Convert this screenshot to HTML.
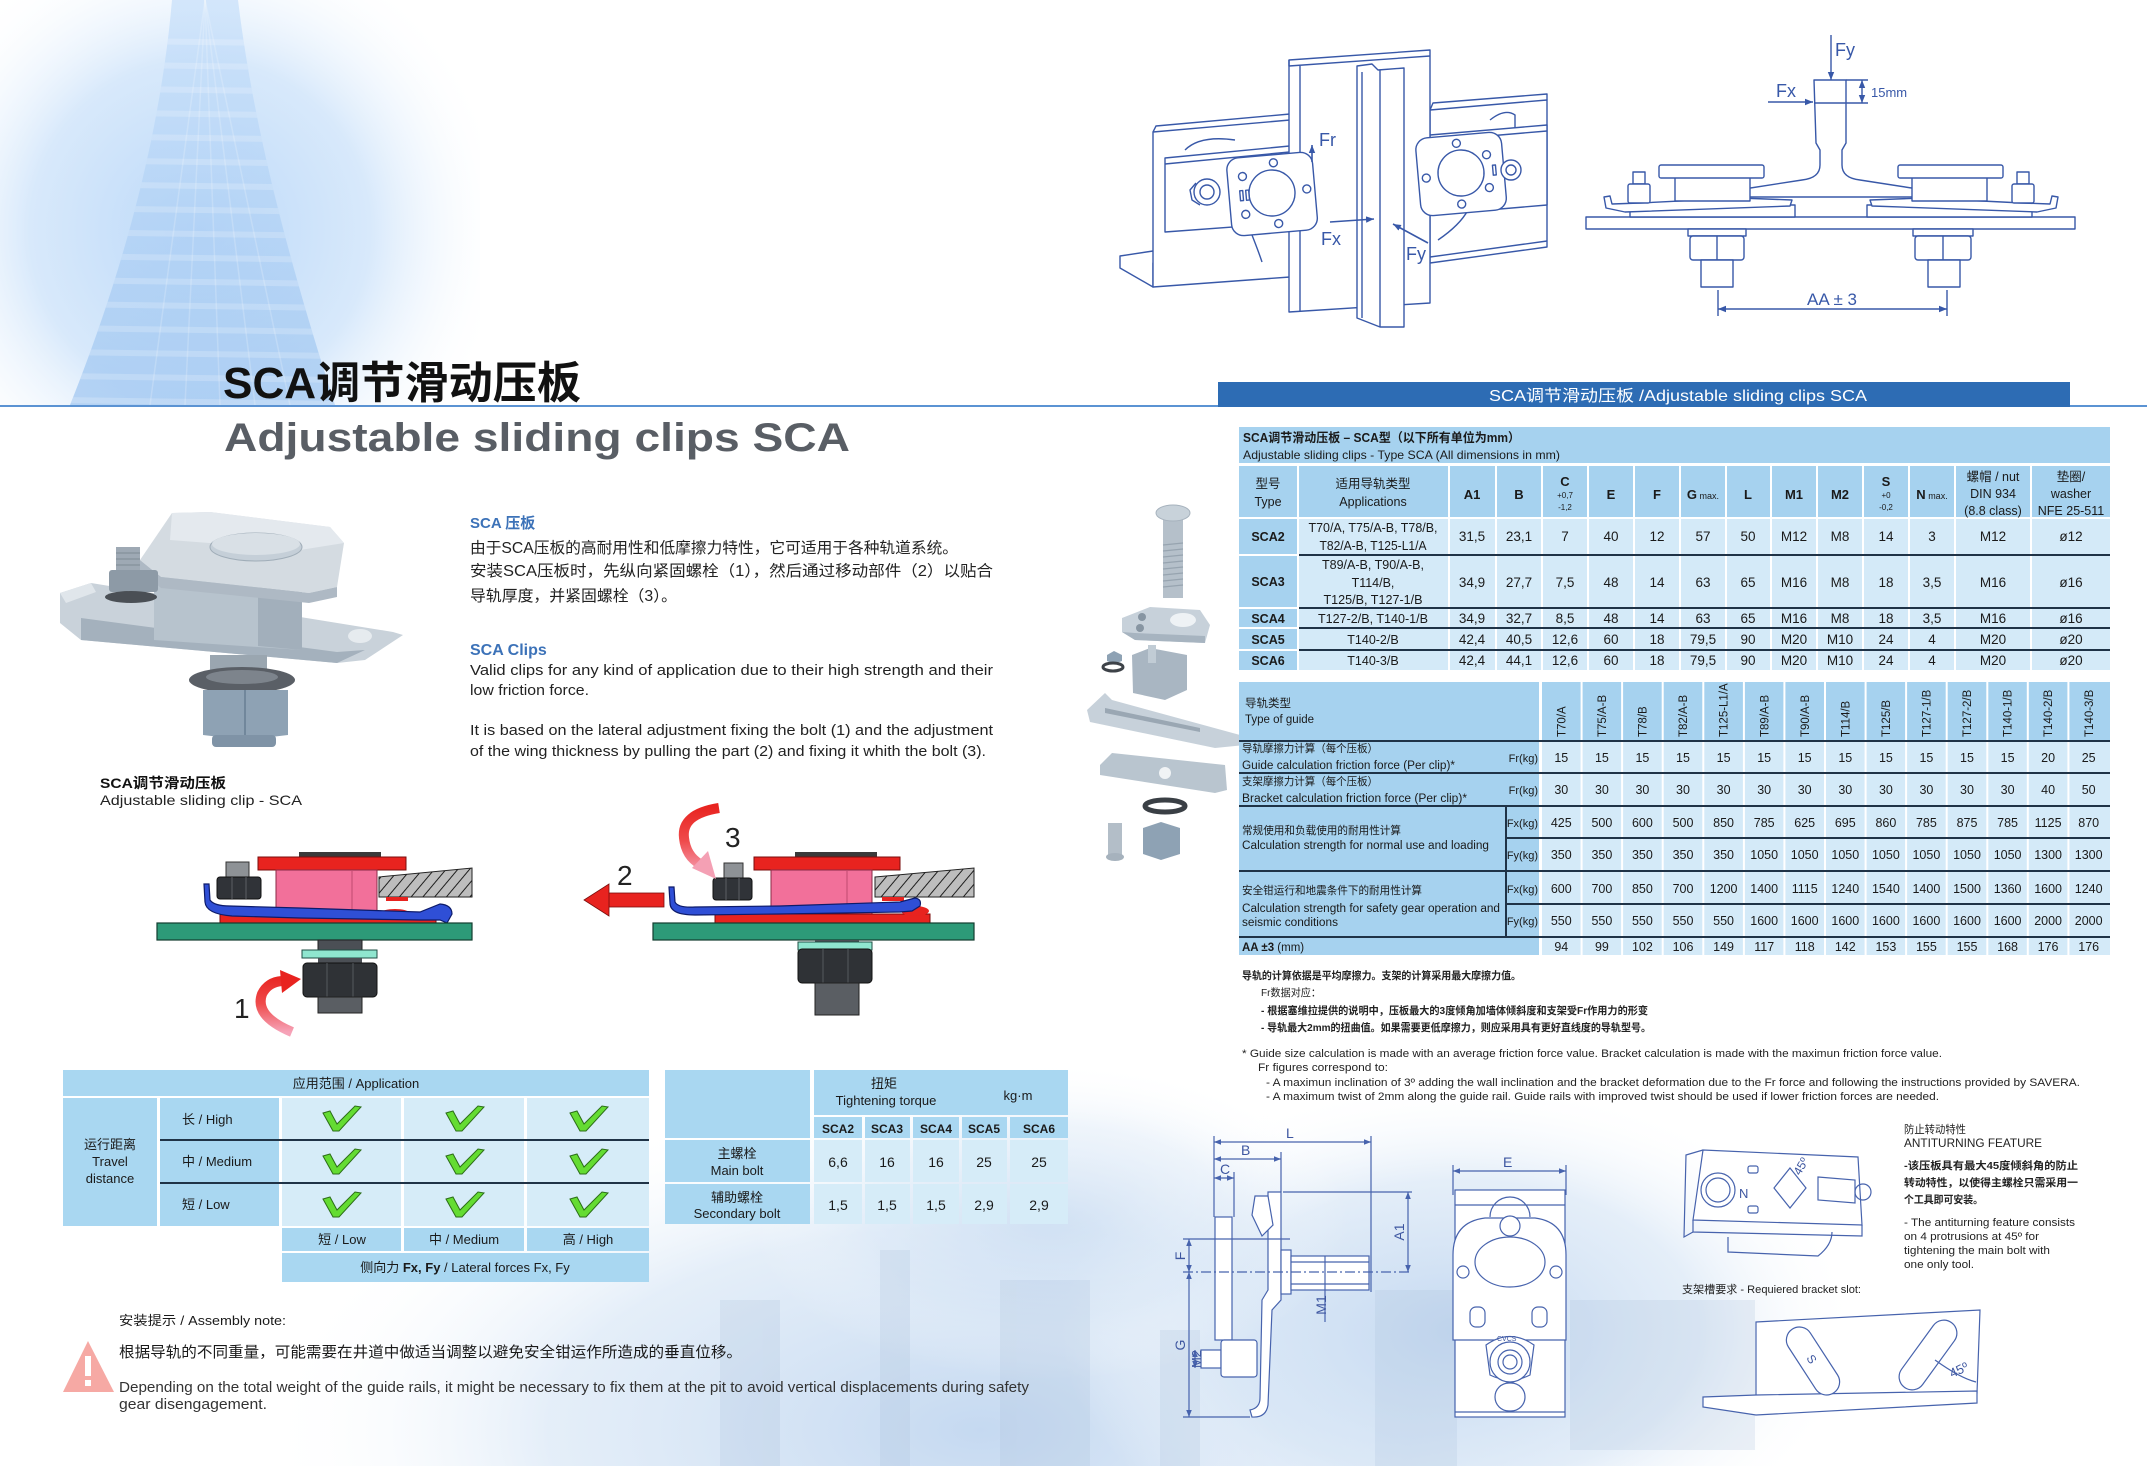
<!DOCTYPE html>
<html><head><meta charset="utf-8">
<style>
html,body{margin:0;padding:0;background:#fff;width:2147px;height:1466px;overflow:hidden;}
body{position:relative;}
svg{position:absolute;left:0;top:0;display:block;}
.s{font-family:"Liberation Sans","Noto Sans CJK SC",sans-serif;}
.b{font-weight:bold;}
</style></head><body>
<svg width="2147" height="1466" viewBox="0 0 2147 1466" xmlns="http://www.w3.org/2000/svg">
<defs>
<radialGradient id="hazeTL" cx="200" cy="230" r="310" gradientUnits="userSpaceOnUse">
<stop offset="0" stop-color="#bcd9f8"/><stop offset="0.55" stop-color="#d8e9fb"/><stop offset="1" stop-color="#ffffff" stop-opacity="0"/>
</radialGradient>
<linearGradient id="bld" x1="0" y1="0" x2="0" y2="1">
<stop offset="0" stop-color="#c6dffa"/><stop offset="1" stop-color="#9cc4f0"/>
</linearGradient>
<radialGradient id="hb1" gradientUnits="userSpaceOnUse" cx="0" cy="0" r="1" gradientTransform="translate(980,1430) scale(720,340)">
<stop offset="0" stop-color="#c2d7f0" stop-opacity="0.95"/><stop offset="0.6" stop-color="#d9e7f6" stop-opacity="0.7"/><stop offset="1" stop-color="#ffffff" stop-opacity="0"/>
</radialGradient>
<radialGradient id="hb2" gradientUnits="userSpaceOnUse" cx="0" cy="0" r="1" gradientTransform="translate(1460,1330) scale(400,250)">
<stop offset="0" stop-color="#c2d7f0" stop-opacity="0.95"/><stop offset="0.6" stop-color="#d9e7f6" stop-opacity="0.7"/><stop offset="1" stop-color="#ffffff" stop-opacity="0"/>
</radialGradient>
<radialGradient id="hb3" gradientUnits="userSpaceOnUse" cx="0" cy="0" r="1" gradientTransform="translate(1050,1220) scale(300,160)">
<stop offset="0" stop-color="#c2d7f0" stop-opacity="0.6"/><stop offset="0.6" stop-color="#d9e7f6" stop-opacity="0.4"/><stop offset="1" stop-color="#ffffff" stop-opacity="0"/>
</radialGradient>
<clipPath id="bclip"><path d="M172,0 C160,140 120,280 70,405 L335,405 C295,280 255,140 238,0 Z"/></clipPath>
<pattern id="hatch" width="9" height="9" patternUnits="userSpaceOnUse" patternTransform="rotate(40)">
<rect width="9" height="9" fill="#bdbdbd"/><line x1="0" y1="0" x2="0" y2="9" stroke="#1e1e1e" stroke-width="2"/>
</pattern>
<marker id="ab" viewBox="0 0 10 10" refX="10" refY="5" markerWidth="8" markerHeight="8" orient="auto-start-reverse" markerUnits="userSpaceOnUse"><path d="M0,1 L10,5 L0,9 z" fill="#3858a8"/></marker>
<marker id="ab2" viewBox="0 0 10 10" refX="10" refY="5" markerWidth="7" markerHeight="7" orient="auto-start-reverse" markerUnits="userSpaceOnUse"><path d="M0,1 L10,5 L0,9 z" fill="#4763ad"/></marker>
<linearGradient id="arr1" x1="0" y1="1032" x2="0" y2="975" gradientUnits="userSpaceOnUse"><stop offset="0" stop-color="#f6a3b8"/><stop offset="0.5" stop-color="#ef4a4a"/><stop offset="1" stop-color="#e8231f"/></linearGradient>
<linearGradient id="arr3" x1="0" y1="806" x2="0" y2="875" gradientUnits="userSpaceOnUse"><stop offset="0" stop-color="#e8231f"/><stop offset="0.5" stop-color="#ef4a4a"/><stop offset="1" stop-color="#f6a3b8"/></linearGradient>
<path id="chk" d="M-18,-6 L-11,-8 L-4,5 L14,-13 L20,-12 L-2,12 L-8,12 Z" fill="#64dc32" stroke="#2c6e18" stroke-width="1"/>
</defs>

<!-- ===== backgrounds ===== -->
<rect x="0" y="0" width="480" height="405" fill="url(#hazeTL)"/>
<path d="M172,0 C160,140 120,280 70,405 L335,405 C295,280 255,140 238,0 Z" fill="url(#bld)" opacity="0.7"/>
<g clip-path="url(#bclip)" stroke="#ffffff" stroke-opacity="0.2" stroke-width="6">
<line x1="60" y1="40" x2="340" y2="44"/><line x1="60" y1="64" x2="340" y2="68"/><line x1="60" y1="88" x2="340" y2="92"/>
<line x1="60" y1="112" x2="340" y2="116"/><line x1="60" y1="136" x2="340" y2="140"/><line x1="60" y1="160" x2="340" y2="164"/>
<line x1="60" y1="184" x2="340" y2="188"/><line x1="60" y1="208" x2="340" y2="212"/><line x1="60" y1="232" x2="340" y2="236"/>
<line x1="60" y1="256" x2="340" y2="260"/><line x1="60" y1="280" x2="340" y2="284"/><line x1="60" y1="304" x2="340" y2="308"/>
<line x1="60" y1="328" x2="340" y2="332"/><line x1="60" y1="352" x2="340" y2="356"/><line x1="60" y1="376" x2="340" y2="380"/>
<line x1="60" y1="400" x2="340" y2="404"/>
</g>
<g clip-path="url(#bclip)" stroke="#ffffff" stroke-opacity="0.2" stroke-width="1.5">
<line x1="205" y1="0" x2="150" y2="405"/><line x1="205" y1="0" x2="185" y2="405"/><line x1="205" y1="0" x2="220" y2="405"/><line x1="205" y1="0" x2="255" y2="405"/><line x1="205" y1="0" x2="290" y2="405"/>
</g>

<rect x="260" y="1090" width="1440" height="376" fill="url(#hb1)"/>
<rect x="1060" y="1080" width="800" height="386" fill="url(#hb2)"/>
<rect x="750" y="1060" width="600" height="320" fill="url(#hb3)"/>
<g fill="#a9bfd9" opacity="0.22">
<rect x="1375" y="1290" width="82" height="176"/>
<rect x="1570" y="1300" width="185" height="150"/>
<rect x="1160" y="1330" width="40" height="136"/>
<rect x="720" y="1300" width="60" height="166"/>
<rect x="880" y="1250" width="30" height="216"/>
<rect x="1000" y="1280" width="90" height="186"/>
</g>

<!-- top line & banner -->
<rect x="0" y="405" width="1218" height="2" fill="#5b93d3"/>
<rect x="2070" y="405" width="77" height="2" fill="#5b93d3"/>
<rect x="1218" y="382" width="852" height="25" fill="#2d6cb4"/>
<text class="s" x="1489" y="401" font-size="16" fill="#ffffff" textLength="378" lengthAdjust="spacingAndGlyphs">SCA调节滑动压板 /Adjustable sliding clips SCA</text>

<!-- titles -->
<text class="s b" x="223" y="398" font-size="44" fill="#111" textLength="358" lengthAdjust="spacingAndGlyphs">SCA调节滑动压板</text>
<text class="s b" x="224" y="451" font-size="40" fill="#595e65" textLength="626" lengthAdjust="spacingAndGlyphs">Adjustable sliding clips SCA</text>

<!-- paragraphs -->
<text class="s b" x="470" y="528" font-size="15" fill="#3c72b8">SCA 压板</text>
<text class="s" x="470" y="553" font-size="15.5" fill="#222" textLength="488" lengthAdjust="spacingAndGlyphs">由于SCA压板的高耐用性和低摩擦力特性，它可适用于各种轨道系统。</text>
<text class="s" x="470" y="576" font-size="15.5" fill="#222" textLength="523" lengthAdjust="spacingAndGlyphs">安装SCA压板时，先纵向紧固螺栓（1），然后通过移动部件（2）以贴合</text>
<text class="s" x="470" y="601" font-size="15.5" fill="#222" textLength="207" lengthAdjust="spacingAndGlyphs">导轨厚度，并紧固螺栓（3）。</text>
<text class="s b" x="470" y="655" font-size="16" fill="#3c72b8">SCA Clips</text>
<text class="s" x="470" y="675" font-size="14.5" fill="#222" textLength="523" lengthAdjust="spacingAndGlyphs">Valid clips for any kind of application due to their high strength and their</text>
<text class="s" x="470" y="695" font-size="14.5" fill="#222" textLength="119" lengthAdjust="spacingAndGlyphs">low friction force.</text>
<text class="s" x="470" y="735" font-size="14.5" fill="#222" textLength="523" lengthAdjust="spacingAndGlyphs">It is based on the lateral adjustment fixing the bolt (1) and the adjustment</text>
<text class="s" x="470" y="756" font-size="14.5" fill="#222" textLength="516" lengthAdjust="spacingAndGlyphs">of the wing thickness by pulling the part (2) and fixing it whith the bolt (3).</text>

<text class="s b" x="100" y="788" font-size="14" fill="#111" textLength="126" lengthAdjust="spacingAndGlyphs">SCA调节滑动压板</text>
<text class="s" x="100" y="805" font-size="14" fill="#222" textLength="202" lengthAdjust="spacingAndGlyphs">Adjustable sliding clip - SCA</text>

<!-- ===== clip photo ===== -->
<g>
<polygon points="60,593 91,583 393,632 403,635 365,660 337,663 81,640 60,623" fill="#c9d2da"/>
<polygon points="81,618 337,652 365,650 337,663 81,640" fill="#a4b1bd"/>
<polygon points="60,593 91,583 96,592 66,603" fill="#e0e6eb"/>
<rect x="210" y="655" width="57" height="30" fill="#9aa6b0"/>
<ellipse cx="242" cy="680" rx="53" ry="13" fill="#5a5f66"/>
<ellipse cx="242" cy="677" rx="36" ry="7" fill="#7d848c"/>
<polygon points="203,690 288,690 288,735 245,740 203,735" fill="#8ea2b4"/>
<line x1="245" y1="690" x2="245" y2="740" stroke="#71879b" stroke-width="2"/>
<rect x="212" y="735" width="64" height="12" rx="4" fill="#7f93a6"/>
<polygon points="154,565 302,560 302,650 154,640" fill="#b7c3cd"/>
<polygon points="258,562 302,560 302,650 258,646" fill="#a2afbb"/>
<polygon points="140,560 172,513 210,512 330,527 344,543 337,587 309,593 161,577" fill="#d4dbe1"/>
<polygon points="172,513 210,512 330,527 344,543 300,550 170,540" fill="#e4e9ee"/>
<polygon points="140,560 161,577 309,593 337,587 337,597 309,603 161,588 140,570" fill="#aeb9c4"/>
<ellipse cx="256" cy="547" rx="46" ry="14" fill="#c5cfd8" stroke="#a0adb8"/>
<ellipse cx="256" cy="544" rx="44" ry="11" fill="#d9e0e6"/>
<rect x="116" y="547" width="24" height="24" fill="#9ea9b4"/>
<line x1="116" y1="553" x2="140" y2="553" stroke="#7f8a95"/><line x1="116" y1="559" x2="140" y2="559" stroke="#7f8a95"/><line x1="116" y1="565" x2="140" y2="565" stroke="#7f8a95"/>
<rect x="109" y="570" width="49" height="22" rx="3" fill="#8d9aa6"/>
<ellipse cx="131" cy="597" rx="26" ry="6" fill="#4a4f55"/>
<ellipse cx="360" cy="636" rx="12" ry="7" fill="#e6ebef"/>
</g>

<!-- ===== exploded parts ===== -->
<g>
<rect x="1163" y="519" width="20" height="79" fill="#b5c0ca"/>
<g stroke="#97a4b0" stroke-width="1.2"><line x1="1163" y1="545" x2="1183" y2="543"/><line x1="1163" y1="551" x2="1183" y2="549"/><line x1="1163" y1="557" x2="1183" y2="555"/><line x1="1163" y1="563" x2="1183" y2="561"/><line x1="1163" y1="569" x2="1183" y2="567"/><line x1="1163" y1="575" x2="1183" y2="573"/><line x1="1163" y1="581" x2="1183" y2="579"/><line x1="1163" y1="587" x2="1183" y2="585"/></g>
<ellipse cx="1173" cy="513" rx="17" ry="8" fill="#c8d2da" stroke="#a6b2bd"/>
<polygon points="1122,618 1150,607 1200,610 1210,625 1205,643 1135,640 1122,632" fill="#c7d1da"/>
<polygon points="1122,632 1135,640 1205,643 1205,636 1135,633" fill="#a7b4c0"/>
<ellipse cx="1183" cy="620" rx="13" ry="7" fill="#eef2f5"/>
<circle cx="1142" cy="617" r="4" fill="#8795a2"/><circle cx="1140" cy="628" r="4" fill="#8795a2"/>
<polygon points="1107,655 1114,651 1122,655 1122,661 1114,664 1107,661" fill="#8ea2b4"/>
<ellipse cx="1113" cy="667" rx="10" ry="4" fill="none" stroke="#3d4248" stroke-width="3"/>
<polygon points="1132,655 1150,648 1187,655 1187,690 1165,700 1133,693" fill="#a9b6c2"/>
<rect x="1148" y="645" width="8" height="18" fill="#c1ccd5"/>
<polygon points="1087,710 1105,693 1112,700 1240,735 1245,745 1215,748 1090,722" fill="#c7d1da"/>
<polygon points="1105,708 1200,728 1200,732 1105,713" fill="#9aa7b3"/>
<polygon points="1100,765 1112,753 1225,765 1227,790 1215,793 1100,775" fill="#b9c5cf"/>
<circle cx="1165" cy="773" r="6" fill="#f0f3f5"/>
<ellipse cx="1165" cy="806" rx="20" ry="6" fill="none" stroke="#3a3f45" stroke-width="5"/>
<rect x="1108" y="823" width="14" height="32" fill="#b3bec8"/>
<ellipse cx="1115" cy="857" rx="9" ry="4" fill="#a6b2bd"/>
<polygon points="1143,828 1161,822 1180,828 1180,854 1161,860 1143,854" fill="#8ea2b4"/>
</g>

<!-- ===== top-left iso drawing ===== -->
<g fill="#fff" stroke="#3858a8" stroke-width="1.4" stroke-linejoin="round">
<polygon points="1120,256 1153,251 1290,238 1290,250 1153,263 1153,287 1120,268"/>
<polygon points="1153,132 1290,120 1290,277 1153,287"/>
<polyline points="1153,132 1156,126 1290,114" fill="none"/>
<path d="M1185,150 Q1200,135 1235,140" fill="none"/>
<path d="M1250,230 Q1258,250 1262,262" fill="none"/>
<polygon points="1430,110 1547,100 1547,247 1430,263"/>
<polyline points="1430,110 1433,103 1547,94 1547,100" fill="none"/>
<line x1="1430" y1="257" x2="1547" y2="241"/>
<path d="M1490,120 Q1505,108 1515,115 L1515,128" fill="none"/>
<polygon points="1165,158 1300,145 1300,222 1165,232"/>
<line x1="1165" y1="164" x2="1300" y2="151"/>
<polygon points="1430,135 1547,125 1547,205 1430,215"/>
<line x1="1430" y1="141" x2="1547" y2="131"/>
<path d="M1438,240 Q1460,225 1468,210" fill="none"/>
<polygon points="1289,60 1430,50 1430,303 1289,312"/>
<polyline points="1289,60 1289,66 1430,56" fill="none"/>
<line x1="1300" y1="66" x2="1300" y2="311"/>
<polygon points="1357,66 1372,64 1378,70 1404,68 1404,327 1380,327 1357,318"/>
<line x1="1380" y1="70" x2="1380" y2="327"/>
<line x1="1362" y1="72" x2="1362" y2="318"/>
<g transform="rotate(-5 1272 193)">
<rect x="1229" y="155" width="86" height="78" rx="12"/>
<circle cx="1272" cy="193" r="23"/>
<circle cx="1244" cy="174" r="4"/><circle cx="1244" cy="212" r="4"/><circle cx="1276" cy="163" r="4"/><circle cx="1276" cy="224" r="4"/><circle cx="1307" cy="192" r="4"/>
<rect x="1240" y="188" width="3" height="10"/><rect x="1246" y="188" width="3" height="10"/>
</g>
<circle cx="1207" cy="192" r="13"/><circle cx="1207" cy="192" r="7"/>
<path d="M1196,183 L1190,190 L1192,200 L1200,205" fill="none"/>
<g transform="rotate(-5 1461 173)">
<rect x="1418" y="135" width="86" height="78" rx="12"/>
<circle cx="1461" cy="173" r="23"/>
<circle cx="1459" cy="143" r="4"/><circle cx="1459" cy="204" r="4"/><circle cx="1488" cy="157" r="4"/><circle cx="1488" cy="190" r="4"/><circle cx="1426" cy="175" r="4"/>
<rect x="1493" y="168" width="3" height="10"/>
</g>
<circle cx="1511" cy="170" r="10"/><circle cx="1511" cy="170" r="5"/>
</g>
<g stroke="#3858a8" stroke-width="1.6" fill="none">
<line x1="1312" y1="162" x2="1312" y2="145" marker-end="url(#ab)"/>
<line x1="1330" y1="222" x2="1374" y2="219" marker-end="url(#ab)"/>
<line x1="1428" y1="243" x2="1393" y2="224" marker-end="url(#ab)"/>
</g>
<g class="s" font-size="18" fill="#3858a8">
<text x="1319" y="146">Fr</text>
<text x="1321" y="245">Fx</text>
<text x="1406" y="260">Fy</text>
</g>

<!-- ===== top-right T rail drawing ===== -->
<g fill="#fff" stroke="#3858a8" stroke-width="1.4" stroke-linejoin="round">
<rect x="1586" y="217" width="489" height="12"/>
<rect x="1630" y="205" width="165" height="12"/>
<rect x="1867" y="205" width="165" height="12"/>
<path d="M1814,80 L1846,80 L1846,143 L1842,150 L1842,165 Q1842,178 1860,180 L1918,189 L1918,197 L1744,197 L1744,189 L1802,180 Q1820,178 1820,165 L1820,150 L1816,143 Z"/>
<line x1="1814" y1="103" x2="1846" y2="103"/>
<path d="M1604,197 L1606,208 L1625,212 L1790,206 L1792,200 L1740,198 L1640,203 L1612,204 L1610,196 Z"/>
<path d="M2058,197 L2056,208 L2037,212 L1872,206 L1870,200 L1922,198 L2022,203 L2050,204 L2052,196 Z"/>
<rect x="1675" y="177" width="75" height="24"/>
<rect x="1659" y="165" width="105" height="13" rx="2"/>
<rect x="1912" y="177" width="75" height="24"/>
<rect x="1898" y="165" width="105" height="13" rx="2"/>
<rect x="1633" y="172" width="12" height="12"/>
<rect x="1628" y="184" width="22" height="19" rx="2"/>
<rect x="2017" y="172" width="12" height="12"/>
<rect x="2012" y="184" width="22" height="19" rx="2"/>
<rect x="1688" y="229" width="58" height="7"/>
<rect x="1690" y="236" width="54" height="24" rx="3"/>
<line x1="1717" y1="236" x2="1717" y2="260"/>
<rect x="1701" y="260" width="32" height="27"/>
<rect x="1913" y="229" width="60" height="7"/>
<rect x="1915" y="236" width="56" height="24" rx="3"/>
<line x1="1943" y1="236" x2="1943" y2="260"/>
<rect x="1928" y="260" width="32" height="27"/>
</g>
<g stroke="#3858a8" stroke-width="1.4" fill="none">
<line x1="1831" y1="35" x2="1831" y2="80" marker-end="url(#ab)"/>
<line x1="1768" y1="102" x2="1813" y2="102" marker-end="url(#ab)"/>
<line x1="1846" y1="80" x2="1868" y2="80"/>
<line x1="1846" y1="103" x2="1868" y2="103"/>
<line x1="1862" y1="80" x2="1862" y2="103" marker-start="url(#ab)" marker-end="url(#ab)"/>
<line x1="1718" y1="290" x2="1718" y2="316"/>
<line x1="1947" y1="290" x2="1947" y2="316"/>
<line x1="1718" y1="309" x2="1947" y2="309" marker-start="url(#ab)" marker-end="url(#ab)"/>
</g>
<g class="s" fill="#3858a8">
<text x="1835" y="56" font-size="18">Fy</text>
<text x="1776" y="97" font-size="18">Fx</text>
<text x="1871" y="97" font-size="13">15mm</text>
<text x="1832" y="305" font-size="17" text-anchor="middle">AA ± 3</text>
</g>

<!-- ===== table 1 ===== -->
<g>
<rect x="1239" y="427" width="871" height="36" fill="#a6d2ef"/>
<rect x="1239" y="466" width="871" height="51" fill="#a6d2ef"/>
<rect x="1299" y="519" width="811" height="151" fill="#d4eaf8"/>
<rect x="1239" y="519" width="58" height="151" fill="#a6d2ef"/>
<g fill="#fff">
<rect x="1297" y="466" width="2" height="204"/><rect x="1448" y="466" width="2" height="204"/><rect x="1495" y="466" width="2" height="204"/>
<rect x="1541" y="466" width="2" height="204"/><rect x="1587" y="466" width="2" height="204"/><rect x="1633" y="466" width="2" height="204"/>
<rect x="1679" y="466" width="2" height="204"/><rect x="1725" y="466" width="2" height="204"/><rect x="1770" y="466" width="2" height="204"/>
<rect x="1816" y="466" width="2" height="204"/><rect x="1862" y="466" width="2" height="204"/><rect x="1908" y="466" width="2" height="204"/>
<rect x="1954" y="466" width="2" height="204"/><rect x="2030" y="466" width="2" height="204"/>
<rect x="1239" y="517" width="871" height="2"/>
<rect x="1239" y="554" width="58" height="2"/><rect x="1239" y="607" width="58" height="2"/><rect x="1239" y="627" width="58" height="2"/><rect x="1239" y="649" width="58" height="2"/>
</g>
<g fill="#1f3347">
<rect x="1299" y="554" width="811" height="2"/><rect x="1299" y="607" width="811" height="2"/><rect x="1299" y="627" width="811" height="2"/><rect x="1299" y="649" width="811" height="2"/>
</g>
<g class="s" fill="#1a1a1a">
<text class="b" x="1243" y="442" font-size="12.5" textLength="277" lengthAdjust="spacingAndGlyphs">SCA调节滑动压板 – SCA型（以下所有单位为mm）</text>
<text x="1243" y="459" font-size="12" textLength="317" lengthAdjust="spacingAndGlyphs">Adjustable sliding clips - Type SCA  (All dimensions in mm)</text>
</g>
<g class="s" fill="#1a1a1a" font-size="12.5" text-anchor="middle">
<text x="1268" y="488">型号</text><text x="1268" y="506">Type</text>
<text x="1373" y="488">适用导轨类型</text><text x="1373" y="506">Applications</text>
<text class="b" x="1472" y="499" font-size="13">A1</text>
<text class="b" x="1519" y="499" font-size="13">B</text>
<text class="b" x="1565" y="486" font-size="13">C</text><text x="1565" y="498" font-size="8">+0,7</text><text x="1565" y="510" font-size="8">-1,2</text>
<text class="b" x="1611" y="499" font-size="13">E</text>
<text class="b" x="1657" y="499" font-size="13">F</text>
<text x="1703" y="499"><tspan font-weight="bold" font-size="13">G</tspan><tspan font-size="9"> max.</tspan></text>
<text class="b" x="1748" y="499" font-size="13">L</text>
<text class="b" x="1794" y="499" font-size="13">M1</text>
<text class="b" x="1840" y="499" font-size="13">M2</text>
<text class="b" x="1886" y="486" font-size="13">S</text><text x="1886" y="498" font-size="8">+0</text><text x="1886" y="510" font-size="8">-0,2</text>
<text x="1932" y="499"><tspan font-weight="bold" font-size="13">N</tspan><tspan font-size="9"> max.</tspan></text>
<text x="1993" y="481">螺帽 / nut</text><text x="1993" y="498">DIN 934</text><text x="1993" y="515">(8.8 class)</text>
<text x="2071" y="481">垫圈/</text><text x="2071" y="498">washer</text><text x="2071" y="515">NFE 25-511</text>
</g>
<g class="s b" fill="#1a1a1a" font-size="12.5" text-anchor="middle">
<text x="1268" y="541">SCA2</text><text x="1268" y="586">SCA3</text><text x="1268" y="623">SCA4</text><text x="1268" y="644">SCA5</text><text x="1268" y="665">SCA6</text>
</g>
<g class="s" fill="#1a1a1a" font-size="12.5" text-anchor="middle">
<text x="1373" y="532" textLength="129" lengthAdjust="spacingAndGlyphs">T70/A, T75/A-B, T78/B,</text>
<text x="1373" y="550" textLength="107" lengthAdjust="spacingAndGlyphs">T82/A-B, T125-L1/A</text>
<text x="1373" y="569" textLength="102" lengthAdjust="spacingAndGlyphs">T89/A-B, T90/A-B,</text>
<text x="1373" y="587">T114/B,</text>
<text x="1373" y="604" textLength="99" lengthAdjust="spacingAndGlyphs">T125/B, T127-1/B</text>
<text x="1373" y="623" textLength="110" lengthAdjust="spacingAndGlyphs">T127-2/B, T140-1/B</text>
<text x="1373" y="644">T140-2/B</text>
<text x="1373" y="665">T140-3/B</text>
</g>
<g class="s" fill="#1a1a1a" font-size="13.5" text-anchor="middle">
<text x="1472" y="541">31,5</text><text x="1519" y="541">23,1</text><text x="1565" y="541">7</text><text x="1611" y="541">40</text><text x="1657" y="541">12</text><text x="1703" y="541">57</text><text x="1748" y="541">50</text><text x="1794" y="541">M12</text><text x="1840" y="541">M8</text><text x="1886" y="541">14</text><text x="1932" y="541">3</text><text x="1993" y="541">M12</text><text x="2071" y="541">ø12</text>
<text x="1472" y="587">34,9</text><text x="1519" y="587">27,7</text><text x="1565" y="587">7,5</text><text x="1611" y="587">48</text><text x="1657" y="587">14</text><text x="1703" y="587">63</text><text x="1748" y="587">65</text><text x="1794" y="587">M16</text><text x="1840" y="587">M8</text><text x="1886" y="587">18</text><text x="1932" y="587">3,5</text><text x="1993" y="587">M16</text><text x="2071" y="587">ø16</text>
<text x="1472" y="623">34,9</text><text x="1519" y="623">32,7</text><text x="1565" y="623">8,5</text><text x="1611" y="623">48</text><text x="1657" y="623">14</text><text x="1703" y="623">63</text><text x="1748" y="623">65</text><text x="1794" y="623">M16</text><text x="1840" y="623">M8</text><text x="1886" y="623">18</text><text x="1932" y="623">3,5</text><text x="1993" y="623">M16</text><text x="2071" y="623">ø16</text>
<text x="1472" y="644">42,4</text><text x="1519" y="644">40,5</text><text x="1565" y="644">12,6</text><text x="1611" y="644">60</text><text x="1657" y="644">18</text><text x="1703" y="644">79,5</text><text x="1748" y="644">90</text><text x="1794" y="644">M20</text><text x="1840" y="644">M10</text><text x="1886" y="644">24</text><text x="1932" y="644">4</text><text x="1993" y="644">M20</text><text x="2071" y="644">ø20</text>
<text x="1472" y="665">42,4</text><text x="1519" y="665">44,1</text><text x="1565" y="665">12,6</text><text x="1611" y="665">60</text><text x="1657" y="665">18</text><text x="1703" y="665">79,5</text><text x="1748" y="665">90</text><text x="1794" y="665">M20</text><text x="1840" y="665">M10</text><text x="1886" y="665">24</text><text x="1932" y="665">4</text><text x="1993" y="665">M20</text><text x="2071" y="665">ø20</text>
</g>
</g>

<!-- ===== table 2 ===== -->
<g>
<rect x="1239" y="682" width="871" height="58" fill="#a6d2ef"/>
<rect x="1542" y="742" width="568" height="213" fill="#d4eaf8"/>
<rect x="1239" y="742" width="300" height="213" fill="#a6d2ef"/>
<g fill="#fff">
<rect x="1539" y="682" width="3" height="273"/>
<rect x="1580.6" y="682" width="2" height="273"/><rect x="1621.1" y="682" width="2" height="273"/><rect x="1661.7" y="682" width="2" height="273"/>
<rect x="1702.3" y="682" width="2" height="273"/><rect x="1742.9" y="682" width="2" height="273"/><rect x="1783.4" y="682" width="2" height="273"/>
<rect x="1824" y="682" width="2" height="273"/><rect x="1864.6" y="682" width="2" height="273"/><rect x="1905.1" y="682" width="2" height="273"/>
<rect x="1945.7" y="682" width="2" height="273"/><rect x="1986.3" y="682" width="2" height="273"/><rect x="2026.8" y="682" width="2" height="273"/>
<rect x="2067.4" y="682" width="2" height="273"/>
</g>
<g fill="#1f3347">
<rect x="1239" y="740" width="871" height="2"/>
<rect x="1239" y="772" width="871" height="2"/>
<rect x="1239" y="805" width="871" height="2"/>
<rect x="1507" y="837" width="603" height="2"/>
<rect x="1239" y="870" width="871" height="2"/>
<rect x="1507" y="903" width="603" height="2"/>
<rect x="1239" y="936" width="871" height="2"/>
<rect x="1505" y="807" width="2" height="129"/>
</g>
<g class="s" fill="#1a1a1a" font-size="11.5">
<text x="1245" y="707">导轨类型</text>
<text x="1245" y="723">Type of guide</text>
<text x="1242" y="752" font-size="11" textLength="136" lengthAdjust="spacingAndGlyphs">导轨摩擦力计算（每个压板）</text>
<text x="1242" y="769" textLength="213" lengthAdjust="spacingAndGlyphs">Guide calculation friction force (Per clip)*</text>
<text x="1242" y="785" font-size="11" textLength="136" lengthAdjust="spacingAndGlyphs">支架摩擦力计算（每个压板）</text>
<text x="1242" y="802" textLength="225" lengthAdjust="spacingAndGlyphs">Bracket calculation friction force (Per clip)*</text>
<text x="1242" y="834" font-size="11" textLength="159" lengthAdjust="spacingAndGlyphs">常规使用和负载使用的耐用性计算</text>
<text x="1242" y="849" textLength="247" lengthAdjust="spacingAndGlyphs">Calculation strength for normal use and loading</text>
<text x="1242" y="894" font-size="11" textLength="180" lengthAdjust="spacingAndGlyphs">安全钳运行和地震条件下的耐用性计算</text>
<text x="1242" y="912" textLength="258" lengthAdjust="spacingAndGlyphs">Calculation strength for safety gear operation and</text>
<text x="1242" y="926" textLength="96" lengthAdjust="spacingAndGlyphs">seismic conditions</text>
<text x="1242" y="951" font-weight="bold">AA ±3  <tspan font-weight="normal">(mm)</tspan></text>
</g>
<g class="s" fill="#1a1a1a" font-size="11" text-anchor="end">
<text x="1538" y="762">Fr(kg)</text><text x="1538" y="794">Fr(kg)</text>
<text x="1538" y="827">Fx(kg)</text><text x="1538" y="859">Fy(kg)</text>
<text x="1538" y="893">Fx(kg)</text><text x="1538" y="925">Fy(kg)</text>
</g>
<g class="s" fill="#1a1a1a" font-size="11.5">
<text transform="translate(1565.5,737) rotate(-90)">T70/A</text>
<text transform="translate(1606,737) rotate(-90)">T75/A-B</text>
<text transform="translate(1646.5,737) rotate(-90)">T78/B</text>
<text transform="translate(1687,737) rotate(-90)">T82/A-B</text>
<text transform="translate(1727.7,737) rotate(-90)">T125-L1/A</text>
<text transform="translate(1768.3,737) rotate(-90)">T89/A-B</text>
<text transform="translate(1808.8,737) rotate(-90)">T90/A-B</text>
<text transform="translate(1849.4,737) rotate(-90)">T114/B</text>
<text transform="translate(1890,737) rotate(-90)">T125/B</text>
<text transform="translate(1930.5,737) rotate(-90)">T127-1/B</text>
<text transform="translate(1971,737) rotate(-90)">T127-2/B</text>
<text transform="translate(2011.7,737) rotate(-90)">T140-1/B</text>
<text transform="translate(2052.2,737) rotate(-90)">T140-2/B</text>
<text transform="translate(2092.8,737) rotate(-90)">T140-3/B</text>
</g>
<g class="s" fill="#1a1a1a" font-size="12.5" text-anchor="middle">
<text x="1561.3" y="762">15</text><text x="1601.9" y="762">15</text><text x="1642.4" y="762">15</text><text x="1683" y="762">15</text><text x="1723.6" y="762">15</text><text x="1764.2" y="762">15</text><text x="1804.7" y="762">15</text><text x="1845.3" y="762">15</text><text x="1885.9" y="762">15</text><text x="1926.4" y="762">15</text><text x="1967" y="762">15</text><text x="2007.6" y="762">15</text><text x="2048.1" y="762">20</text><text x="2088.7" y="762">25</text>
<text x="1561.3" y="794">30</text><text x="1601.9" y="794">30</text><text x="1642.4" y="794">30</text><text x="1683" y="794">30</text><text x="1723.6" y="794">30</text><text x="1764.2" y="794">30</text><text x="1804.7" y="794">30</text><text x="1845.3" y="794">30</text><text x="1885.9" y="794">30</text><text x="1926.4" y="794">30</text><text x="1967" y="794">30</text><text x="2007.6" y="794">30</text><text x="2048.1" y="794">40</text><text x="2088.7" y="794">50</text>
<text x="1561.3" y="827">425</text><text x="1601.9" y="827">500</text><text x="1642.4" y="827">600</text><text x="1683" y="827">500</text><text x="1723.6" y="827">850</text><text x="1764.2" y="827">785</text><text x="1804.7" y="827">625</text><text x="1845.3" y="827">695</text><text x="1885.9" y="827">860</text><text x="1926.4" y="827">785</text><text x="1967" y="827">875</text><text x="2007.6" y="827">785</text><text x="2048.1" y="827">1125</text><text x="2088.7" y="827">870</text>
<text x="1561.3" y="859">350</text><text x="1601.9" y="859">350</text><text x="1642.4" y="859">350</text><text x="1683" y="859">350</text><text x="1723.6" y="859">350</text><text x="1764.2" y="859">1050</text><text x="1804.7" y="859">1050</text><text x="1845.3" y="859">1050</text><text x="1885.9" y="859">1050</text><text x="1926.4" y="859">1050</text><text x="1967" y="859">1050</text><text x="2007.6" y="859">1050</text><text x="2048.1" y="859">1300</text><text x="2088.7" y="859">1300</text>
<text x="1561.3" y="893">600</text><text x="1601.9" y="893">700</text><text x="1642.4" y="893">850</text><text x="1683" y="893">700</text><text x="1723.6" y="893">1200</text><text x="1764.2" y="893">1400</text><text x="1804.7" y="893">1115</text><text x="1845.3" y="893">1240</text><text x="1885.9" y="893">1540</text><text x="1926.4" y="893">1400</text><text x="1967" y="893">1500</text><text x="2007.6" y="893">1360</text><text x="2048.1" y="893">1600</text><text x="2088.7" y="893">1240</text>
<text x="1561.3" y="925">550</text><text x="1601.9" y="925">550</text><text x="1642.4" y="925">550</text><text x="1683" y="925">550</text><text x="1723.6" y="925">550</text><text x="1764.2" y="925">1600</text><text x="1804.7" y="925">1600</text><text x="1845.3" y="925">1600</text><text x="1885.9" y="925">1600</text><text x="1926.4" y="925">1600</text><text x="1967" y="925">1600</text><text x="2007.6" y="925">1600</text><text x="2048.1" y="925">2000</text><text x="2088.7" y="925">2000</text>
<text x="1561.3" y="951">94</text><text x="1601.9" y="951">99</text><text x="1642.4" y="951">102</text><text x="1683" y="951">106</text><text x="1723.6" y="951">149</text><text x="1764.2" y="951">117</text><text x="1804.7" y="951">118</text><text x="1845.3" y="951">142</text><text x="1885.9" y="951">153</text><text x="1926.4" y="951">155</text><text x="1967" y="951">155</text><text x="2007.6" y="951">168</text><text x="2048.1" y="951">176</text><text x="2088.7" y="951">176</text>
</g>
</g>

<!-- notes right -->
<g class="s" fill="#222">
<text x="1242" y="979" font-size="10.5" font-weight="bold" textLength="279" lengthAdjust="spacingAndGlyphs">导轨的计算依据是平均摩擦力。支架的计算采用最大摩擦力值。</text>
<text x="1261" y="996" font-size="10.5" textLength="60" lengthAdjust="spacingAndGlyphs">Fr数据对应：</text>
<text x="1261" y="1014" font-size="10.5" font-weight="bold" textLength="387" lengthAdjust="spacingAndGlyphs">- 根据塞维拉提供的说明中，压板最大的3度倾角加墙体倾斜度和支架受Fr作用力的形变</text>
<text x="1261" y="1031" font-size="10.5" font-weight="bold" textLength="390" lengthAdjust="spacingAndGlyphs">- 导轨最大2mm的扭曲值。如果需要更低摩擦力，则应采用具有更好直线度的导轨型号。</text>
<text x="1242" y="1057" font-size="11" textLength="700" lengthAdjust="spacingAndGlyphs">* Guide size calculation is made with an average friction force value. Bracket calculation is made with the maximun friction force value.</text>
<text x="1258" y="1071" font-size="11" textLength="130" lengthAdjust="spacingAndGlyphs">Fr figures correspond to:</text>
<text x="1266" y="1086" font-size="11" textLength="814" lengthAdjust="spacingAndGlyphs">- A maximun inclination of 3º adding the wall inclination and the bracket deformation due to the Fr force and following the instructions provided by SAVERA.</text>
<text x="1266" y="1100" font-size="11" textLength="673" lengthAdjust="spacingAndGlyphs">- A maximum twist of 2mm along the guide rail. Guide rails with improved twist should be used if lower friction forces are needed.</text>
</g>

<!-- ===== middle diagrams ===== -->
<g>
<polygon points="379,877 472,868 472,897 379,897" fill="url(#hatch)" stroke="#222" stroke-width="1"/>
<rect x="299" y="852" width="82" height="6" fill="#3a3a3a"/>
<rect x="258" y="857" width="148" height="13" fill="#e8231f" stroke="#7a0e0c" stroke-width="1"/>
<rect x="276" y="870" width="101" height="46" fill="#f2709a" stroke="#8a2a45" stroke-width="1"/>
<line x1="352" y1="870" x2="352" y2="916" stroke="#c04a70"/>
<rect x="386" y="897" width="22" height="4" fill="#e8231f"/>
<rect x="226" y="862" width="23" height="16" fill="#8e9296" stroke="#333"/>
<rect x="217" y="877" width="44" height="22" rx="3" fill="#303338" stroke="#111"/>
<line x1="232" y1="877" x2="232" y2="899" stroke="#5b5f64"/><line x1="246" y1="877" x2="246" y2="899" stroke="#5b5f64"/>
<rect x="220" y="914" width="216" height="10" fill="#e8231f" stroke="#7a0e0c"/>
<ellipse cx="255" cy="912" rx="16" ry="5" fill="#e8231f"/><ellipse cx="395" cy="913" rx="14" ry="4" fill="#e8231f"/>
<path d="M204,884 L209,884 L210,900 Q214,906 230,906 L300,908 L420,912 L440,904 Q452,905 452,914 L447,923 L440,920 L420,920 L300,918 L232,916 Q206,914 205,902 Z" fill="#2f4fd6" stroke="#0d1b6a" stroke-width="1.2"/>
<rect x="157" y="923" width="315" height="17" fill="#2d9a78" stroke="#133d30" stroke-width="1.2"/>
<rect x="318" y="940" width="44" height="10" fill="#4b4f55" stroke="#222"/>
<rect x="302" y="950" width="75" height="8" fill="#8fe6cf" stroke="#1f4f44"/>
<rect x="318" y="958" width="44" height="5" fill="#4b4f55"/>
<rect x="303" y="963" width="74" height="34" rx="4" fill="#2f3236" stroke="#111"/>
<line x1="327" y1="963" x2="327" y2="997" stroke="#55595e"/><line x1="353" y1="963" x2="353" y2="997" stroke="#55595e"/>
<rect x="318" y="997" width="44" height="16" fill="#5a5e63" stroke="#222"/>
<path d="M292,1032 Q254,1016 262,994 Q268,982 282,981" fill="none" stroke="url(#arr1)" stroke-width="10"/>
<polygon points="280,970 301,979 282,993" fill="#e8231f"/>
<text class="s" x="234" y="1018" font-size="28" fill="#222">1</text>
</g>
<g>
<polygon points="875,877 974,868 974,897 875,897" fill="url(#hatch)" stroke="#222" stroke-width="1"/>
<rect x="795" y="852" width="82" height="6" fill="#3a3a3a"/>
<rect x="754" y="857" width="146" height="13" fill="#e8231f" stroke="#7a0e0c" stroke-width="1"/>
<rect x="771" y="870" width="101" height="46" fill="#f2709a" stroke="#8a2a45" stroke-width="1"/>
<line x1="847" y1="870" x2="847" y2="916" stroke="#c04a70"/>
<rect x="882" y="897" width="22" height="4" fill="#e8231f"/>
<rect x="724" y="863" width="19" height="15" fill="#8e9296" stroke="#333"/>
<rect x="713" y="878" width="39" height="22" rx="3" fill="#303338" stroke="#111"/>
<line x1="726" y1="878" x2="726" y2="900" stroke="#5b5f64"/><line x1="739" y1="878" x2="739" y2="900" stroke="#5b5f64"/>
<rect x="715" y="914" width="215" height="10" fill="#e8231f" stroke="#7a0e0c"/>
<ellipse cx="745" cy="912" rx="16" ry="5" fill="#e8231f"/><ellipse cx="915" cy="911" rx="14" ry="5" fill="#e8231f"/>
<path d="M669,887 L674,887 L675,902 Q678,908 695,907 L780,906 L900,902 L915,898 Q922,899 920,906 L912,911 L900,912 L780,914 L695,915 Q670,915 670,903 Z" fill="#2f4fd6" stroke="#0d1b6a" stroke-width="1.2"/>
<rect x="653" y="923" width="321" height="17" fill="#2d9a78" stroke="#133d30" stroke-width="1.2"/>
<rect x="815" y="940" width="44" height="3" fill="#4b4f55"/>
<rect x="798" y="942" width="74" height="8" fill="#8fe6cf" stroke="#1f4f44"/>
<rect x="798" y="949" width="74" height="34" rx="4" fill="#2f3236" stroke="#111"/>
<line x1="823" y1="949" x2="823" y2="983" stroke="#55595e"/><line x1="848" y1="949" x2="848" y2="983" stroke="#55595e"/>
<rect x="815" y="983" width="44" height="32" fill="#5a5e63" stroke="#222"/>
<rect x="605" y="893" width="59" height="14" fill="#e8231f" stroke="#7a0e0c" stroke-width="0.8"/>
<polygon points="584,900 609,884 609,916" fill="#e8231f" stroke="#7a0e0c" stroke-width="0.8"/>
<text class="s" x="617" y="885" font-size="28" fill="#222">2</text>
<path d="M719,808 Q681,814 684,838 Q686,856 700,864" fill="none" stroke="url(#arr3)" stroke-width="10"/>
<polygon points="692,868 716,879 708,851" fill="#f4a0b4"/>
<text class="s" x="725" y="847" font-size="28" fill="#222">3</text>
</g>

<!-- ===== bottom-left tables ===== -->
<g>
<rect x="63" y="1070" width="586" height="26" fill="#a9d7f1"/>
<rect x="63" y="1098" width="94" height="128" fill="#a9d7f1"/>
<rect x="160" y="1098" width="119" height="41" fill="#a9d7f1"/><rect x="160" y="1141" width="119" height="41" fill="#a9d7f1"/><rect x="160" y="1184" width="119" height="42" fill="#a9d7f1"/>
<g fill="#d6ecf8">
<rect x="282" y="1098" width="119" height="41"/><rect x="404" y="1098" width="120" height="41"/><rect x="527" y="1098" width="122" height="41"/>
<rect x="282" y="1141" width="119" height="41"/><rect x="404" y="1141" width="120" height="41"/><rect x="527" y="1141" width="122" height="41"/>
<rect x="282" y="1184" width="119" height="42"/><rect x="404" y="1184" width="120" height="42"/><rect x="527" y="1184" width="122" height="42"/>
</g>
<rect x="160" y="1139" width="489" height="2" fill="#1f3347"/><rect x="160" y="1182" width="489" height="2" fill="#1f3347"/>
<rect x="282" y="1228" width="119" height="23" fill="#a9d7f1"/><rect x="404" y="1228" width="120" height="23" fill="#a9d7f1"/><rect x="527" y="1228" width="122" height="23" fill="#a9d7f1"/>
<rect x="282" y="1253" width="367" height="29" fill="#a9d7f1"/>
<use href="#chk" x="341" y="1119"/><use href="#chk" x="464" y="1119"/><use href="#chk" x="588" y="1119"/>
<use href="#chk" x="341" y="1162"/><use href="#chk" x="464" y="1162"/><use href="#chk" x="588" y="1162"/>
<use href="#chk" x="341" y="1205"/><use href="#chk" x="464" y="1205"/><use href="#chk" x="588" y="1205"/>
<g class="s" fill="#1a1a1a" font-size="13">
<text x="356" y="1088" text-anchor="middle">应用范围 / Application</text>
<text x="110" y="1149" text-anchor="middle">运行距离</text><text x="110" y="1166" text-anchor="middle">Travel</text><text x="110" y="1183" text-anchor="middle">distance</text>
<text x="182" y="1124">长 / High</text><text x="182" y="1166">中 / Medium</text><text x="182" y="1209">短 / Low</text>
<text x="342" y="1244" text-anchor="middle">短 / Low</text><text x="464" y="1244" text-anchor="middle">中 / Medium</text><text x="588" y="1244" text-anchor="middle">高 / High</text>
<text x="465" y="1272" text-anchor="middle">侧向力 <tspan font-weight="bold">Fx, Fy</tspan>  /  Lateral forces Fx, Fy</text>
</g>
</g>
<g>
<rect x="665" y="1070" width="145" height="68" fill="#a9d7f1"/>
<rect x="814" y="1070" width="254" height="45" fill="#a9d7f1"/>
<rect x="814" y="1117" width="48" height="21" fill="#a9d7f1"/><rect x="865" y="1117" width="45" height="21" fill="#a9d7f1"/><rect x="913" y="1117" width="46" height="21" fill="#a9d7f1"/><rect x="962" y="1117" width="45" height="21" fill="#a9d7f1"/><rect x="1010" y="1117" width="58" height="21" fill="#a9d7f1"/>
<rect x="665" y="1140" width="145" height="42" fill="#a9d7f1"/><rect x="665" y="1184" width="145" height="40" fill="#a9d7f1"/>
<g fill="#d6ecf8">
<rect x="814" y="1140" width="48" height="42"/><rect x="865" y="1140" width="45" height="42"/><rect x="913" y="1140" width="46" height="42"/><rect x="962" y="1140" width="45" height="42"/><rect x="1010" y="1140" width="58" height="42"/>
<rect x="814" y="1184" width="48" height="40"/><rect x="865" y="1184" width="45" height="40"/><rect x="913" y="1184" width="46" height="40"/><rect x="962" y="1184" width="45" height="40"/><rect x="1010" y="1184" width="58" height="40"/>
</g>
<g class="s" fill="#1a1a1a" font-size="13" text-anchor="middle">
<text x="884" y="1088">扭矩</text>
<text x="886" y="1105">Tightening torque</text>
<text x="1018" y="1100">kg·m</text>
<text class="b" x="838" y="1133" font-size="12">SCA2</text><text class="b" x="887" y="1133" font-size="12">SCA3</text><text class="b" x="936" y="1133" font-size="12">SCA4</text><text class="b" x="984" y="1133" font-size="12">SCA5</text><text class="b" x="1039" y="1133" font-size="12">SCA6</text>
<text x="737" y="1158">主螺栓</text><text x="737" y="1175">Main bolt</text>
<text x="737" y="1202">辅助螺栓</text><text x="737" y="1218">Secondary bolt</text>
<text x="838" y="1167" font-size="14">6,6</text><text x="887" y="1167" font-size="14">16</text><text x="936" y="1167" font-size="14">16</text><text x="984" y="1167" font-size="14">25</text><text x="1039" y="1167" font-size="14">25</text>
<text x="838" y="1210" font-size="14">1,5</text><text x="887" y="1210" font-size="14">1,5</text><text x="936" y="1210" font-size="14">1,5</text><text x="984" y="1210" font-size="14">2,9</text><text x="1039" y="1210" font-size="14">2,9</text>
</g>
</g>

<!-- assembly note -->
<polygon points="88,1341 114,1392 63,1392" fill="#f6a9a4"/>
<rect x="85" y="1356" width="6" height="20" fill="#fff"/><rect x="85" y="1380" width="6" height="6" fill="#fff"/>
<g class="s" fill="#1a1a1a">
<text x="119" y="1325" font-size="13" textLength="167" lengthAdjust="spacingAndGlyphs">安装提示 / Assembly note:</text>
<text x="119" y="1357" font-size="15" textLength="623" lengthAdjust="spacingAndGlyphs">根据导轨的不同重量，可能需要在井道中做适当调整以避免安全钳运作所造成的垂直位移。</text>
<text x="119" y="1392" font-size="14.5" fill="#333" textLength="910" lengthAdjust="spacingAndGlyphs">Depending on the total weight of the guide rails, it might be necessary to fix them at the pit to avoid vertical displacements during safety</text>
<text x="119" y="1409" font-size="14.5" fill="#333" textLength="148" lengthAdjust="spacingAndGlyphs">gear disengagement.</text>
</g>

<!-- ===== bottom-right drawings ===== -->
<g fill="none" stroke="#4763ad" stroke-width="1.2">
<line x1="1214" y1="1142" x2="1371" y2="1142" marker-start="url(#ab2)" marker-end="url(#ab2)"/>
<line x1="1214" y1="1159" x2="1281" y2="1159" marker-start="url(#ab2)" marker-end="url(#ab2)"/>
<line x1="1214" y1="1178" x2="1234" y2="1178" marker-start="url(#ab2)" marker-end="url(#ab2)"/>
<line x1="1214" y1="1136" x2="1214" y2="1217"/>
<line x1="1281" y1="1152" x2="1281" y2="1192"/>
<line x1="1234" y1="1172" x2="1234" y2="1217"/>
<line x1="1371" y1="1136" x2="1371" y2="1292"/>
<rect x="1215" y="1217" width="17" height="123" fill="#fff"/>
<path d="M1268,1192 L1281,1192 L1281,1300 L1272,1310 L1268,1405 Q1266,1418 1252,1417 L1250,1410 Q1260,1408 1260,1398 L1262,1300 L1268,1290 Z" fill="#fff"/>
<path d="M1255,1196 L1268,1196 L1273,1225 L1262,1236 L1252,1215 Z" fill="#fff"/>
<rect x="1281" y="1250" width="10" height="44" fill="#fff"/>
<rect x="1291" y="1256" width="78" height="34" fill="#fff"/>
<line x1="1291" y1="1262" x2="1369" y2="1262"/><line x1="1291" y1="1284" x2="1369" y2="1284"/>
<line x1="1183" y1="1272" x2="1412" y2="1272" stroke-dasharray="10,3,2,3"/>
<line x1="1283" y1="1192" x2="1412" y2="1192"/>
<line x1="1408" y1="1192" x2="1408" y2="1272" marker-start="url(#ab2)" marker-end="url(#ab2)"/>
<line x1="1183" y1="1239" x2="1290" y2="1239"/>
<line x1="1189" y1="1239" x2="1189" y2="1272" marker-start="url(#ab2)" marker-end="url(#ab2)"/>
<line x1="1189" y1="1272" x2="1189" y2="1417" marker-start="url(#ab2)" marker-end="url(#ab2)"/>
<line x1="1183" y1="1417" x2="1250" y2="1417"/>
<line x1="1325" y1="1256" x2="1325" y2="1322"/>
<rect x="1201" y="1350" width="20" height="18" fill="#fff"/>
<rect x="1221" y="1340" width="36" height="37" rx="3" fill="#fff"/>
<line x1="1195" y1="1350" x2="1195" y2="1368" marker-start="url(#ab2)" marker-end="url(#ab2)"/>
<line x1="1453" y1="1171" x2="1566" y2="1171" marker-start="url(#ab2)" marker-end="url(#ab2)"/>
<line x1="1453" y1="1165" x2="1453" y2="1195"/><line x1="1566" y1="1165" x2="1566" y2="1195"/>
<rect x="1455" y="1190" width="110" height="227" fill="#fff"/>
<line x1="1455" y1="1205" x2="1565" y2="1205"/>
<line x1="1455" y1="1412" x2="1565" y2="1412"/>
<path d="M1490,1217 A20,20 0 0 1 1530,1217"/>
<path d="M1453,1340 L1453,1255 Q1453,1222 1485,1218 L1535,1218 Q1566,1222 1566,1255 L1566,1340 Z" fill="#fff"/>
<circle cx="1510" cy="1226" r="10" fill="#fff"/>
<ellipse cx="1510" cy="1262" rx="35" ry="25" fill="#fff"/>
<circle cx="1463" cy="1272" r="6"/><circle cx="1556" cy="1272" r="6"/>
<rect x="1470" y="1307" width="15" height="20" rx="6"/><rect x="1532" y="1307" width="15" height="20" rx="6"/>
<path d="M1486,1345 Q1510,1328 1534,1345 L1530,1375 Q1510,1385 1490,1375 Z" fill="#fff"/>
<circle cx="1510" cy="1362" r="20" fill="#fff"/>
<circle cx="1510" cy="1362" r="12"/><circle cx="1510" cy="1362" r="7"/>
<rect x="1495" y="1383" width="30" height="28" rx="14" fill="#fff"/>
<polygon points="1703,1150 1858,1157 1862,1225 1693,1220" fill="#fff"/>
<polyline points="1703,1150 1686,1155 1684,1237 1693,1232"/>
<polyline points="1693,1220 1693,1232 1862,1236 1862,1225"/>
<path d="M1728,1237 L1728,1252 L1818,1256 Q1832,1245 1832,1232"/>
<circle cx="1718" cy="1190" r="17"/><circle cx="1718" cy="1190" r="12"/>
<rect x="1748" y="1166" width="10" height="7" rx="2"/><rect x="1748" y="1206" width="10" height="7" rx="2"/>
<polygon points="1790,1168 1806,1188 1790,1208 1774,1188"/>
<polygon points="1818,1177 1855,1180 1855,1203 1818,1200"/>
<circle cx="1863" cy="1192" r="8"/>
<polygon points="1756,1322 1980,1310 1977,1393 1756,1407" fill="#fff"/>
<polygon points="1703,1397 1756,1395 1977,1391 1977,1403 1756,1415 1703,1407" fill="#fff"/>
<rect x="-38" y="-13" width="76" height="26" rx="13" transform="translate(1813,1361) rotate(57)" fill="#fff"/>
<rect x="-40" y="-13" width="80" height="26" rx="13" transform="translate(1928,1355) rotate(-54)" fill="#fff"/>
<path d="M1935,1360 Q1960,1378 1976,1382"/>
</g>
<g class="s" fill="#3d56a0" font-size="14">
<text x="1286" y="1138">L</text><text x="1241" y="1155">B</text><text x="1220" y="1174">C</text><text x="1503" y="1167">E</text>
<text transform="translate(1404,1232) rotate(-90)" text-anchor="middle">A1</text>
<text transform="translate(1185,1256) rotate(-90)" text-anchor="middle">F</text>
<text transform="translate(1326,1305) rotate(-90)" text-anchor="middle">M1</text>
<text transform="translate(1185,1345) rotate(-90)" text-anchor="middle">G</text>
<text transform="translate(1201,1359) rotate(-90)" text-anchor="middle" font-size="13">M2</text>
<text x="1739" y="1198" font-size="13">N</text>
<text transform="translate(1800,1176) rotate(-60)" font-size="12">45º</text>
<text transform="translate(1806,1358) rotate(57)" font-size="12">S</text>
<text transform="translate(1952,1378) rotate(-25)" font-size="13">45º</text>
<text x="1497" y="1341" font-size="7">CVCS</text>
</g>
<g class="s" fill="#222">
<text x="1904" y="1133" font-size="11" textLength="62" lengthAdjust="spacingAndGlyphs">防止转动特性</text>
<text x="1904" y="1147" font-size="12" textLength="138" lengthAdjust="spacingAndGlyphs">ANTITURNING FEATURE</text>
<text x="1904" y="1169" font-size="10.5" font-weight="bold" textLength="174" lengthAdjust="spacingAndGlyphs">-该压板具有最大45度倾斜角的防止</text>
<text x="1904" y="1186" font-size="10.5" font-weight="bold" textLength="174" lengthAdjust="spacingAndGlyphs">转动特性，以使得主螺栓只需采用一</text>
<text x="1904" y="1203" font-size="10.5" font-weight="bold" textLength="79" lengthAdjust="spacingAndGlyphs">个工具即可安装。</text>
<text x="1904" y="1226" font-size="11" textLength="171" lengthAdjust="spacingAndGlyphs">- The antiturning feature consists</text>
<text x="1904" y="1240" font-size="11" textLength="135" lengthAdjust="spacingAndGlyphs">on 4 protrusions at 45º for</text>
<text x="1904" y="1254" font-size="11" textLength="146" lengthAdjust="spacingAndGlyphs">tightening the main bolt with</text>
<text x="1904" y="1268" font-size="11" textLength="70" lengthAdjust="spacingAndGlyphs">one only tool.</text>
<text x="1682" y="1293" font-size="11" textLength="179" lengthAdjust="spacingAndGlyphs">支架槽要求 - Requiered bracket slot:</text>
</g>
</svg>
</body></html>
